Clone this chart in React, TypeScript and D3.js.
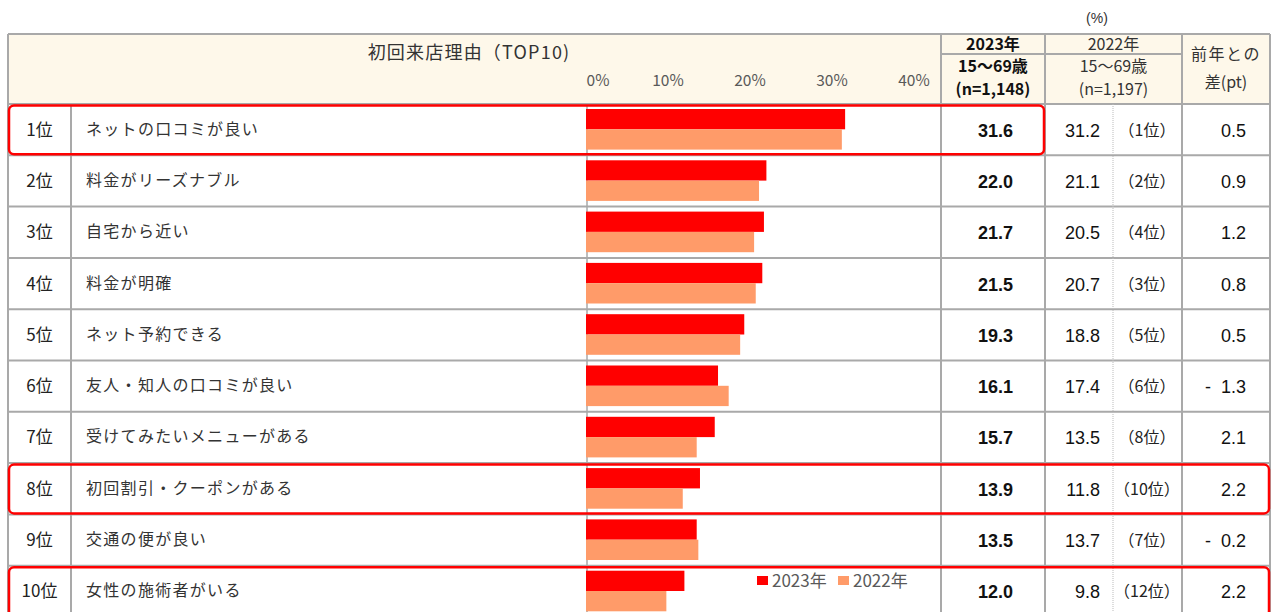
import React from "react";
import * as d3 from "d3";

const categories = [
  "ネットの口コミが良い",
  "料金がリーズナブル",
  "自宅から近い",
  "料金が明確",
  "ネット予約できる",
  "友人・知人の口コミが良い",
  "受けてみたいメニューがある",
  "初回割引・クーポンがある",
  "交通の便が良い",
  "女性の施術者がいる",
];
const rankLabels = ["1位", "2位", "3位", "4位", "5位", "6位", "7位", "8位", "9位", "10位"];
const values2023 = [31.6, 22.0, 21.7, 21.5, 19.3, 16.1, 15.7, 13.9, 13.5, 12.0];
const values2022 = [31.2, 21.1, 20.5, 20.7, 18.8, 17.4, 13.5, 11.8, 13.7, 9.8];
const ranks2022 = ["（1位）", "（2位）", "（4位）", "（3位）", "（5位）", "（6位）", "（8位）", "（10位）", "（7位）", "（12位）"];
const diffs = [0.5, 0.9, 1.2, 0.8, 0.5, -1.3, 2.1, 2.2, -0.2, 2.2];
const ticks = [0, 10, 20, 30, 40];
const seriesNames = ["2023年", "2022年"];
const highlightRows = [0, 7, 9];

const W = 1271;
const H = 612;
const C_RED = "#FF0000";
const C_ORANGE = "#FF9B69";
const GRID = "#A9A9A9";
const HEADER_BG = "#FEF8EA";
const JP = "'Noto Sans CJK JP', 'Noto Sans', sans-serif";
const NUM = "'Liberation Sans', Arial, sans-serif";

const colL = 8, colRank = 71, col23 = 941, col22 = 1045, colDot = 1113, colDiff = 1182, colR = 1270;
const headTop = 34, headMid = 54, headBot = 104;
const rowH = 51.3;

export default function App() {
  const x = d3.scaleLinear().domain([0, 40]).range([586, 914]);
  const y = d3.scaleBand<number>().domain(d3.range(categories.length)).range([headBot, headBot + rowH * categories.length]);
  const sub = d3.scaleBand<string>().domain(seriesNames).range([5, 45.6]);
  const color = d3.scaleOrdinal<string, string>().domain(seriesNames).range([C_RED, C_ORANGE]);
  const fmt = d3.format(".1f");

  const rowIdx = d3.range(categories.length);
  const rowLines = d3.range(categories.length + 1).map((i) => headBot + i * rowH);

  return (
    <svg width={W} height={H} style={{ position: "absolute", left: 0, top: 0, background: "#fff" }}>
      {/* header background */}
      <rect x={colL} y={headTop} width={colR - colL} height={headBot - headTop} fill={HEADER_BG} />
      <text x={1097} y={23} fontSize={14} fontFamily={NUM} fill="#333" textAnchor="middle">(%)</text>

      {/* header texts */}
      <text x={469} y={59} fontSize={18} fontFamily={JP} fill="#333" textAnchor="middle" letterSpacing={1.2}>初回来店理由（TOP10)</text>
      {ticks.map((t) => (
        <text key={t} x={t === 0 ? x(t) + 12 : x(t)} y={86} fontSize={15.5} fontFamily={JP} fill="#595959" textAnchor="middle">{t}%</text>
      ))}
      <g fontFamily={JP} textAnchor="middle">
        <text x={(col23 + col22) / 2} y={50} fontSize={16} fontWeight="bold" fill="#111">2023年</text>
        <text x={(col23 + col22) / 2} y={72} fontSize={16} fontWeight="bold" fill="#111">15〜69歳</text>
        <text x={(col23 + col22) / 2} y={94.5} fontSize={16} fontWeight="bold" fill="#111">(n=1,148)</text>
        <text x={(col22 + colDiff) / 2} y={50} fontSize={16} fill="#333">2022年</text>
        <text x={(col22 + colDiff) / 2} y={72} fontSize={16} fill="#333">15〜69歳</text>
        <text x={(col22 + colDiff) / 2} y={94.5} fontSize={16} fill="#333">(n=1,197)</text>
        <text x={(colDiff + colR) / 2} y={60} fontSize={16} fill="#333" letterSpacing={1.5}>前年との</text>
        <text x={(colDiff + colR) / 2} y={88} fontSize={16} fill="#333">差(pt)</text>
      </g>

      {/* grid */}
      <g stroke={GRID} strokeWidth={2} fill="none">
        <line x1={colL} x2={colR} y1={headTop} y2={headTop} />
        <line x1={col23} x2={colDiff} y1={headMid} y2={headMid} />
        {rowLines.map((ly, k) => (
          <line key={"h" + k} x1={colL} x2={colR} y1={ly} y2={ly} />
        ))}
        <line x1={colL} x2={colL} y1={headTop} y2={H} />
        <line x1={colR} x2={colR} y1={headTop} y2={H} />
        <line x1={colRank} x2={colRank} y1={headBot} y2={H} />
        <line x1={col23} x2={col23} y1={headTop} y2={H} />
        <line x1={col22} x2={col22} y1={headTop} y2={H} />
        <line x1={colDiff} x2={colDiff} y1={headTop} y2={H} />
      </g>
      <line x1={colDot} x2={colDot} y1={headBot} y2={H} stroke="#BBBBBB" strokeWidth={1} strokeDasharray="1,1" />
      <line x1={x(0) + 1} x2={x(0) + 1} y1={headBot} y2={H} stroke={GRID} strokeWidth={1.5} />

      {/* bars */}
      {rowIdx.map((i) => (
        <g key={"bb" + i} transform={`translate(0,${y(i)})`}>
          <rect x={x(0)} y={sub("2023年")} width={x(values2023[i]) - x(0)} height={sub.bandwidth()} fill={color("2023年")} />
          <rect x={x(0)} y={sub("2022年")} width={x(values2022[i]) - x(0)} height={sub.bandwidth()} fill={color("2022年")} />
        </g>
      ))}

      {/* row texts */}
      {rowIdx.map((i) => {
        const cy = (y(i) as number) + rowH / 2 + 6;
        const d = diffs[i];
        return (
          <g key={"t" + i}>
            <text x={(colL + colRank) / 2} y={cy} fontSize={17} fontFamily={JP} fill="#222" textAnchor="middle">{rankLabels[i]}</text>
            <text x={86} y={cy - 1} fontSize={16} fontFamily={JP} fill="#333" letterSpacing={1.3}>{categories[i]}</text>
            <text x={1013} y={cy + 1} fontSize={18} fontFamily={NUM} fontWeight="bold" fill="#111" textAnchor="end">{fmt(values2023[i])}</text>
            <text x={1100} y={cy + 1} fontSize={18} fontFamily={NUM} fill="#111" textAnchor="end">{fmt(values2022[i])}</text>
            <text x={1147} y={cy} fontSize={16} fontFamily={JP} fill="#222" textAnchor="middle">{ranks2022[i]}</text>
            {d < 0 && (
              <text x={1208} y={cy + 1} fontSize={18} fontFamily={NUM} fill="#111" textAnchor="middle">-</text>
            )}
            <text x={1246} y={cy + 1} fontSize={18} fontFamily={NUM} fill="#111" textAnchor="end">{fmt(Math.abs(d))}</text>
          </g>
        );
      })}

      {/* legend */}
      <g fontFamily={JP} fontSize={17} fill="#595959">
        {seriesNames.map((s, k) => (
          <g key={s} transform={`translate(${757 + k * 81},0)`}>
            <rect x={0} y={576} width={11} height={9} fill={color(s)} />
            <text x={15} y={587}>{s}</text>
          </g>
        ))}
      </g>

      {/* highlights */}
      {highlightRows.map((i) => (
        <rect
          key={"hl" + i}
          x={colL + 1}
          y={(y(i) as number) + 1.5}
          width={(i === 0 ? 1044 : colR - 1) - colL - 1}
          height={rowH - 2.5}
          rx={5}
          fill="none"
          stroke={C_RED}
          strokeWidth={2.5}
        />
      ))}
    </svg>
  );
}
